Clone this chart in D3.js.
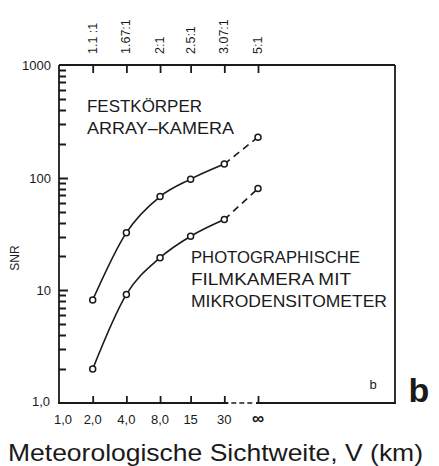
<!DOCTYPE html>
<html><head><meta charset="utf-8">
<script src="https://cdn.jsdelivr.net/npm/d3@7"></script>
<style>body{margin:0;background:#fff}svg{display:block}text{fill:#1a1a1a}</style>
</head><body>
<script>
// ---- data ----
const xCategories = ["2,0","4,0","8,0","15","30","∞"];
const xPositions  = [2, 4, 8, 15, 30, 60];     // ∞ placed one octave past 30
const xTickLabels = ["1,0","2,0","4,0","8,0","15","30","∞"];
const xTickValues = [1, 2, 4, 8, 15, 30, 60];
const ratioLabels = ["1.1 :1","1.67:1","2:1","2.5:1","3.07:1","5:1"];
const festkoerper = [8.2, 32.5, 68, 97, 132, 229];
const filmkamera  = [2.0, 9.2, 19.5, 30.2, 42.5, 80];
const yTickValues = [1, 10, 100, 1000];
const yTickLabels = ["1,0", "10", "100", "1000"];

const W = 439, H = 466;
const m = {left: 59, right: 395, top: 65, bottom: 403};
const svg = d3.select("body").append("svg").attr("width", W).attr("height", H);
const ink = "#1a1a1a";
const font = "'Liberation Sans', Arial, sans-serif";

const x = d3.scaleLog().base(2).domain([1, 60]).range([m.left, 258]);
const y = d3.scaleLog().domain([1, 1000]).range([m.bottom, m.top]);

// y ticks (inward), majors and minors
const minorVals = [];
[1, 10, 100].forEach(e => { for (let k = 2; k <= 9; k++) minorVals.push(k * e); });
const yTickG = svg.append("g");
minorVals.concat([10, 100]).forEach(d => {
  const yy = Math.round(y(d)) + 0.5;
  yTickG.append("line")
    .attr("x1", m.left).attr("x2", (d === 10 || d === 100) ? m.left + 9 : m.left + 7)
    .attr("y1", yy).attr("y2", yy)
    .style("stroke", ink).style("stroke-width", "2px");
});

// frame: top, right, left solid; bottom solid with dashed gap between 30 and ∞
const g = svg.append("g").attr("stroke", ink).attr("stroke-width", 1.8).attr("fill", "none");
g.append("line").attr("x1", m.left).attr("x2", m.right).attr("y1", m.top).attr("y2", m.top);
g.append("line").attr("x1", m.right).attr("x2", m.right).attr("y1", m.top).attr("y2", m.bottom);
g.append("line").attr("x1", m.left).attr("x2", m.left).attr("y1", m.top).attr("y2", m.bottom);
g.append("line").attr("x1", m.left - 1).attr("x2", x(30) + 4).attr("y1", m.bottom).attr("y2", m.bottom);
g.append("line").attr("x1", x(30) + 7).attr("x2", x(60) - 3).attr("y1", m.bottom).attr("y2", m.bottom)
  .attr("stroke-dasharray", "5,3").attr("stroke-width", 1.5);
g.append("line").attr("x1", x(60) - 2).attr("x2", m.right + 1).attr("y1", m.bottom).attr("y2", m.bottom);

svg.append("g").selectAll("text").data(yTickValues).join("text")
  .attr("x", (d, i) => i === 0 ? 50 : 51)
  .attr("y", (d, i) => i === 0 ? y(d) + 3 : y(d) + 5)
  .attr("text-anchor", "end").attr("font-family", font).attr("font-size", 13)
  .text((d, i) => yTickLabels[i]);

// bottom x axis (ticks inward)
const xAxis = d3.axisBottom(x).tickValues(xTickValues.slice(1)).tickSize(-7).tickFormat("");
const xa = svg.append("g").attr("transform", `translate(0,${m.bottom})`).call(xAxis);
xa.select(".domain").remove();
xa.selectAll(".tick line").attr("stroke", ink).attr("stroke-width", 1.8);
svg.append("g").selectAll("text").data(xTickValues).join("text")
  .attr("x", (d, i) => i === 0 ? x(d) + 4 : x(d))
  .attr("y", 424).attr("text-anchor", "middle").attr("font-family", font)
  .attr("font-size", (d, i) => i === 6 ? 17 : 13)
  .attr("font-weight", (d, i) => i === 6 ? "bold" : "normal")
  .text((d, i) => xTickLabels[i]);

// top axis (ticks inward) with ratio labels
const xTop = d3.axisTop(x).tickValues(xPositions).tickSize(-8).tickFormat("");
const xt = svg.append("g").attr("transform", `translate(0,${m.top})`).call(xTop);
xt.select(".domain").remove();
xt.selectAll(".tick line").attr("stroke", ink).attr("stroke-width", 1.8);
svg.append("g").selectAll("text").data(xPositions).join("text")
  .attr("transform", d => `translate(${x(d) + 4},54) rotate(-90)`)
  .attr("text-anchor", "start").attr("font-family", font).attr("font-size", 12.5)
  .text((d, i) => ratioLabels[i]);

// SNR label
svg.append("text").attr("transform", "translate(19,258) rotate(-90)")
  .attr("text-anchor", "middle").attr("font-family", font).attr("font-size", 12).text("SNR");

// series
function drawSeries(vals) {
  const pts = xPositions.map((p, i) => [x(p), y(vals[i])]);
  const solid = d3.line().curve(d3.curveMonotoneX);
  svg.append("path").attr("d", solid(pts.slice(0, 5))).attr("fill", "none")
    .attr("stroke", ink).attr("stroke-width", 1.6);
  svg.append("path").attr("d", d3.line()(pts.slice(4, 6))).attr("fill", "none")
    .attr("stroke", ink).attr("stroke-width", 1.6).attr("stroke-dasharray", "7,5");
  svg.append("g").selectAll("circle").data(pts).join("circle")
    .attr("cx", d => d[0]).attr("cy", d => d[1]).attr("r", 3)
    .attr("fill", "#fff").attr("stroke", ink).attr("stroke-width", 1.5);
}
drawSeries(festkoerper);
drawSeries(filmkamera);

// annotations
const ann = (txt, xx, yy, len) => svg.append("text").attr("x", xx).attr("y", yy)
  .attr("font-family", font).attr("font-size", 16.5).attr("textLength", len)
  .attr("lengthAdjust", "spacingAndGlyphs").text(txt);
ann("FESTKÖRPER", 87, 112, 115);
ann("ARRAY–KAMERA", 87, 134, 147);
ann("PHOTOGRAPHISCHE", 191, 263, 169);
ann("FILMKAMERA MIT", 191, 285, 160);
ann("MIKRODENSITOMETER", 191, 307, 196);

svg.append("text").attr("x", 373).attr("y", 389).attr("font-family", font)
  .attr("font-size", 13).attr("text-anchor", "middle").text("b");
svg.append("text").attr("x", 419).attr("y", 402).attr("font-family", font)
  .attr("font-size", 34).attr("font-weight", "bold").attr("text-anchor", "middle").text("b");

// x title
svg.append("text").attr("x", 8).attr("y", 461).attr("font-family", font)
  .attr("font-size", 24).attr("textLength", 415).attr("lengthAdjust", "spacingAndGlyphs")
  .text("Meteorologische Sichtweite, V (km)");
</script>
</body></html>
